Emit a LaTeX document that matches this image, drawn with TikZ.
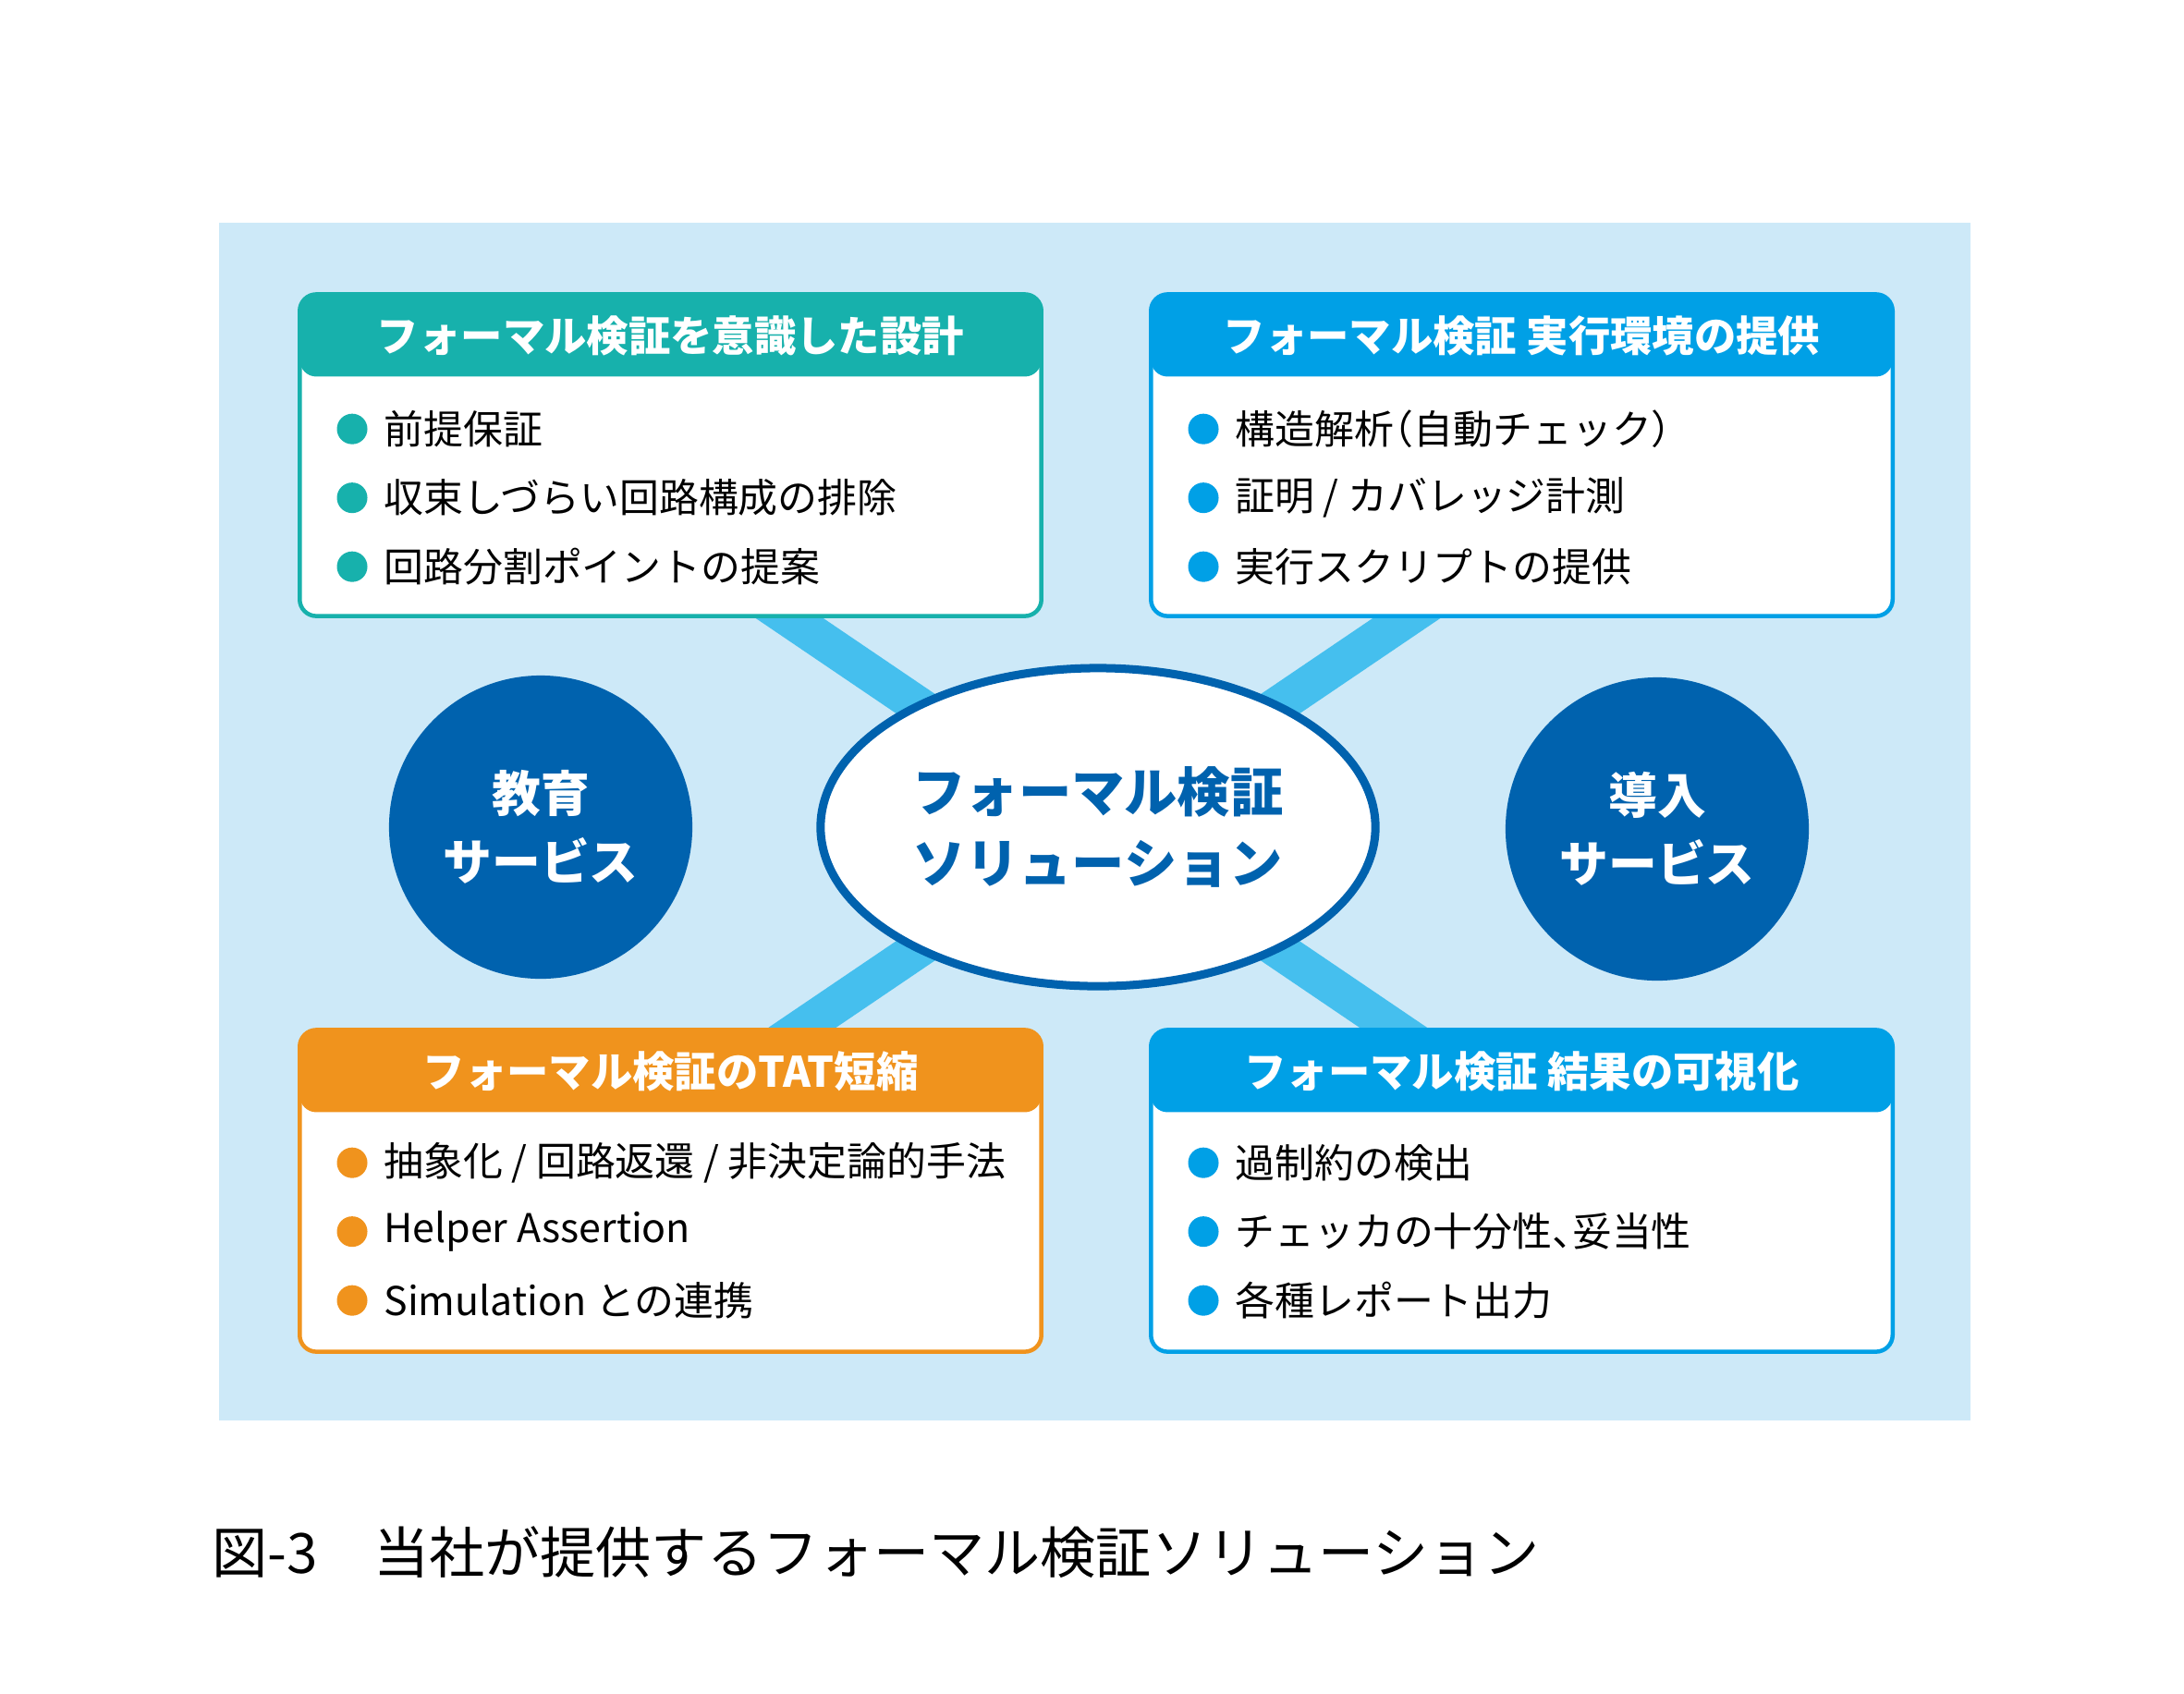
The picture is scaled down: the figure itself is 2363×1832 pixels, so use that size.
\documentclass[tikz,border=0pt]{standalone}
\usepackage{fontspec}
\setmainfont{Noto Sans CJK JP}
\usetikzlibrary{positioning,calc,shapes.geometric,backgrounds}
\definecolor{fbg}{HTML}{CDE9F8}
\definecolor{fbar}{HTML}{45BFEE}
\definecolor{fnavy}{HTML}{0062AE}
\definecolor{fteal}{HTML}{17B1AC}
\definecolor{fcyan}{HTML}{00A0E6}
\definecolor{forange}{HTML}{F0931D}
\tikzset{
  % white card with a coloured title band clipped to its rounded outline
  card/.style = {rectangle, rounded corners=0.18cm, draw=#1, fill=white, line width=0.045cm,
                 minimum width=8.02cm, minimum height=3.48cm, inner sep=0pt,
                 path picture={\fill[#1] (path picture bounding box.north west)
                   rectangle ([yshift=-0.89cm]path picture bounding box.north east);}},
  hdr/.style  = {font=\bfseries\fontsize{12.9pt}{14pt}\selectfont, text=white, inner sep=0pt},
  itm/.style  = {font=\fontsize{12.2pt}{14pt}\selectfont, anchor=west, inner sep=0pt},
  dot/.style  = {circle, fill=#1, minimum size=0.33cm, inner sep=0pt},
  svc/.style  = {circle, fill=fnavy, minimum size=3.28cm, inner sep=0pt, text=white, align=center,
                 font=\bfseries\fontsize{15pt}{21pt}\selectfont},
  core/.style = {ellipse, draw=fnavy, line width=0.09cm, fill=white, minimum width=6.0cm,
                 minimum height=3.44cm, inner sep=0pt, text=fnavy, align=center,
                 font=\bfseries\fontsize{16.3pt}{22pt}\selectfont},
  bar/.style  = {fbar, line width=0.41cm, shorten <=-1cm, shorten >=-1cm},
  figcap/.style = {font=\fontsize{17.1pt}{20pt}\selectfont, anchor=west, inner sep=0pt},
}

\begin{document}
\begin{tikzpicture}[x=0.01cm,y=-0.01cm]
\useasboundingbox (0,0) rectangle (2363,1832);
% cards
\node[card=fteal]   (tl) at (725.5,492.5) {};
\node[card=fcyan]   (tr) at (1646.5,492.5) {};
\node[card=forange] (bl) at (725.5,1288.5) {};
\node[card=fcyan]   (br) at (1646.5,1288.5) {};
\node[hdr] (tl-h) at ([yshift=-0.47cm]tl.north) {フォーマル検証を意識した設計};
\node[hdr] (tr-h) at ([yshift=-0.47cm]tr.north) {フォーマル検証 実行環境の提供};
\node[hdr] (bl-h) at ([yshift=-0.47cm]bl.north) {フォーマル検証のTAT短縮};
\node[hdr] (br-h) at ([yshift=-0.47cm]br.north) {フォーマル検証 結果の可視化};
% items
\foreach \i/\t in {1/前提保証, 2/収束しづらい回路構成の排除, 3/回路分割ポイントの提案}{
  \node[dot=fteal] (tl-d\i) at ($(tl.north west)+(59,{148+74.5*(\i-1)})$) {};
  \node[itm, right=0.165cm of tl-d\i] (tl-t\i) {\t};
}
\foreach \i/\t in {1/構造解析\kern-.5em（自動チェック）, 2/{証明 / カバレッジ計測}, 3/実行スクリプトの提供}{
  \node[dot=fcyan] (tr-d\i) at ($(tr.north west)+(59,{148+74.5*(\i-1)})$) {};
  \node[itm, right=0.165cm of tr-d\i] (tr-t\i) {\t};
}
\foreach \i/\t in {1/{抽象化 / 回路返還 / 非決定論的手法}, 2/Helper Assertion, 3/Simulation との連携}{
  \node[dot=forange] (bl-d\i) at ($(bl.north west)+(59,{146+74.5*(\i-1)})$) {};
  \node[itm, right=0.165cm of bl-d\i] (bl-t\i) {\t};
}
\foreach \i/\t in {1/過制約の検出, 2/チェッカの十分性、\kern-.5em妥当性, 3/各種レポート出力}{
  \node[dot=fcyan] (br-d\i) at ($(br.north west)+(59,{146+74.5*(\i-1)})$) {};
  \node[itm, right=0.165cm of br-d\i] (br-t\i) {\t};
}
% hub
\node[core] (sol) at (1188,895) {フォーマル検証\\ソリューション};
\node[svc]  (edu) at (585,895) {教育\\サービス};
\node[svc]  (intro) at (1793,897) {導入\\サービス};
\coordinate (tl-k) at ([xshift=1.285cm]tl.south);
\coordinate (tr-k) at ([xshift=-1.245cm]tr.south);
\coordinate (bl-k) at ([xshift=1.42cm]bl.north);
\coordinate (br-k) at ([xshift=-1.385cm]br.north);
\begin{scope}[on background layer]
  \fill[white] (0,0) rectangle (2363,1832);
  \fill[fbg] (237,241) rectangle (2132,1537);
  \draw[bar] (tl-k) -- (br-k);
  \draw[bar] (tr-k) -- (bl-k);
\end{scope}
% caption
\node[figcap] (cap) at (229,1680) {図-3　当社が提供するフォーマル検証ソリューション};
\end{tikzpicture}
\end{document}
